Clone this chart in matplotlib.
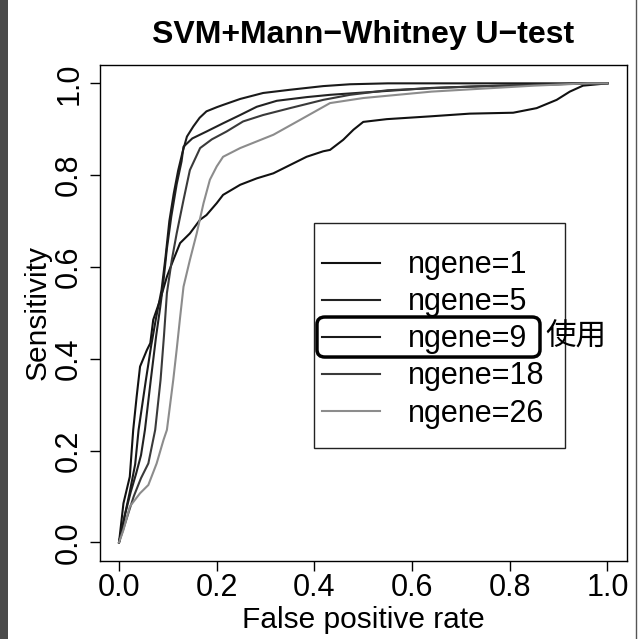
import matplotlib
matplotlib.use("Agg")
import matplotlib.pyplot as plt
from matplotlib.patches import Rectangle, FancyBboxPatch
from matplotlib.lines import Line2D

plt.rcParams['font.family'] = ['Liberation Sans', 'DejaVu Sans']

# ROC curves (false positive rate, sensitivity)
fpr_1 = [0, 0.009, 0.022, 0.029, 0.036, 0.043, 0.057, 0.064, 0.07, 0.084, 0.098, 0.111,
         0.125, 0.145, 0.166, 0.179, 0.2, 0.213, 0.248, 0.282, 0.316, 0.35, 0.384, 0.418,
         0.432, 0.459, 0.48, 0.5, 0.548, 0.636, 0.718, 0.807, 0.855, 0.896, 0.923, 0.95, 1.0]
sens_1 = [0, 0.085, 0.143, 0.245, 0.317, 0.383, 0.419, 0.434, 0.485, 0.528, 0.579, 0.615,
          0.652, 0.673, 0.703, 0.713, 0.739, 0.757, 0.779, 0.793, 0.804, 0.822, 0.84, 0.852,
          0.855, 0.877, 0.899, 0.916, 0.922, 0.928, 0.934, 0.936, 0.946, 0.964, 0.982, 0.995, 1.0]

fpr_5 = [0, 0.012, 0.024, 0.035, 0.045, 0.053, 0.065, 0.076, 0.084, 0.09, 0.098, 0.107,
         0.118, 0.128, 0.132, 0.15, 0.179, 0.213, 0.248, 0.282, 0.323, 0.384, 0.432, 0.5,
         0.64, 0.72, 0.85, 0.96, 1.0]
sens_5 = [0, 0.06, 0.11, 0.15, 0.19, 0.245, 0.354, 0.45, 0.51, 0.56, 0.64, 0.71,
          0.78, 0.83, 0.862, 0.88, 0.895, 0.913, 0.931, 0.949, 0.962, 0.97, 0.975, 0.98,
          0.99, 0.993, 0.997, 1.0, 1.0]

fpr_9 = [0, 0.012, 0.022, 0.033, 0.04, 0.055, 0.066, 0.076, 0.087, 0.095, 0.103, 0.112,
         0.121, 0.13, 0.139, 0.152, 0.165, 0.179, 0.2, 0.213, 0.248, 0.295, 0.35, 0.418,
         0.473, 0.55, 0.65, 0.8, 1.0]
sens_9 = [0, 0.06, 0.11, 0.17, 0.245, 0.354, 0.43, 0.49, 0.55, 0.62, 0.7, 0.76,
          0.81, 0.85, 0.884, 0.906, 0.925, 0.939, 0.948, 0.953, 0.966, 0.979, 0.986, 0.994,
          0.998, 1.0, 1.0, 1.0, 1.0]

fpr_18 = [0, 0.015, 0.03, 0.045, 0.06, 0.074, 0.085, 0.092, 0.098, 0.108, 0.118, 0.132,
          0.145, 0.166, 0.19, 0.22, 0.254, 0.295, 0.35, 0.418, 0.473, 0.55, 0.65, 0.75,
          0.9, 0.96, 1.0]
sens_18 = [0, 0.05, 0.1, 0.14, 0.172, 0.245, 0.354, 0.45, 0.543, 0.615, 0.673, 0.746,
           0.811, 0.859, 0.878, 0.895, 0.917, 0.931, 0.946, 0.964, 0.975, 0.985, 0.99, 0.994,
           0.998, 1.0, 1.0]

fpr_26 = [0, 0.009, 0.022, 0.043, 0.06, 0.077, 0.091, 0.098, 0.111, 0.118, 0.125, 0.132,
          0.145, 0.159, 0.173, 0.186, 0.2, 0.213, 0.248, 0.316, 0.37, 0.432, 0.5, 0.64,
          0.72, 0.85, 0.96, 1.0]
sens_26 = [0, 0.027, 0.078, 0.107, 0.125, 0.172, 0.223, 0.245, 0.354, 0.42, 0.49, 0.557,
           0.615, 0.673, 0.739, 0.79, 0.819, 0.84, 0.859, 0.888, 0.92, 0.957, 0.968, 0.982,
           0.987, 0.995, 1.0, 1.0]

labels = ["ngene=1", "ngene=5", "ngene=9", "ngene=18", "ngene=26"]
colors = ["#111111", "#222222", "#1a1a1a", "#3a3a3a", "#8c8c8c"]
ticks = [0.0, 0.2, 0.4, 0.6, 0.8, 1.0]
tick_labels = ["0.0", "0.2", "0.4", "0.6", "0.8", "1.0"]

curves = [(fpr_1, sens_1), (fpr_5, sens_5), (fpr_9, sens_9),
          (fpr_18, sens_18), (fpr_26, sens_26)]

fig = plt.figure(figsize=(6.42, 6.39), dpi=100)
ax = fig.add_axes([0.155, 0.1225, 0.8216, 0.7758])

for (x, y), c in zip(curves, colors):
    ax.plot(x, y, color=c, lw=1.5)

ax.set_xlim(-0.04, 1.04)
ax.set_ylim(-0.04, 1.04)
ax.set_xticks(ticks)
ax.set_xticklabels(tick_labels)
ax.set_yticks(ticks)
ax.set_yticklabels(tick_labels, rotation=90, va="center")
ax.tick_params(length=7, width=1, labelsize=22)
ax.tick_params(axis="x", pad=2)
ax.tick_params(axis="y", pad=4)
for s in ax.spines.values():
    s.set_linewidth(1)
ax.set_xlabel("False positive rate", fontsize=21.5, labelpad=2)
ax.set_ylabel("Sensitivity", fontsize=21.5, labelpad=2)
ax.set_title("SVM+Mann\u2212Whitney U\u2212test", fontsize=23, fontweight="bold", pad=16)

# legend box with empty rows above and below, as in the picture
ax.add_patch(Rectangle((0.4066, 0.2273), 0.4759, 0.454, transform=ax.transAxes,
                       fill=False, edgecolor="#222222", lw=1))
handles = [Line2D([], [], color=c, lw=1.5) for c in colors]
ax.legend(handles, labels, loc="upper left", bbox_to_anchor=(0.4218, 0.626),
          frameon=False, fontsize=22, handlelength=1.9, handletextpad=0.92,
          labelspacing=0.23, borderpad=0, borderaxespad=0)

# the hand-drawn highlight around ngene=9
ax.add_patch(FancyBboxPatch((0.4123, 0.4109), 0.4228, 0.0807, transform=ax.transAxes,
                            boxstyle="round,pad=0,rounding_size=0.015",
                            fill=False, edgecolor="black", lw=2.5))
ax.text(0.8446, 0.4513, "使用", transform=ax.transAxes, fontsize=22,
        family=["Noto Sans CJK JP", "DejaVu Sans"], ha="left", va="center")

# scan edges
fig.patches.append(Rectangle((0, 0), 8 / 642, 1, transform=fig.transFigure,
                             facecolor="#4a4a4a", edgecolor="none"))
fig.lines.append(Line2D([636 / 642, 636 / 642], [0, 1], transform=fig.transFigure,
                        color="#555555", lw=1))

fig.savefig("out.png", dpi=100)
